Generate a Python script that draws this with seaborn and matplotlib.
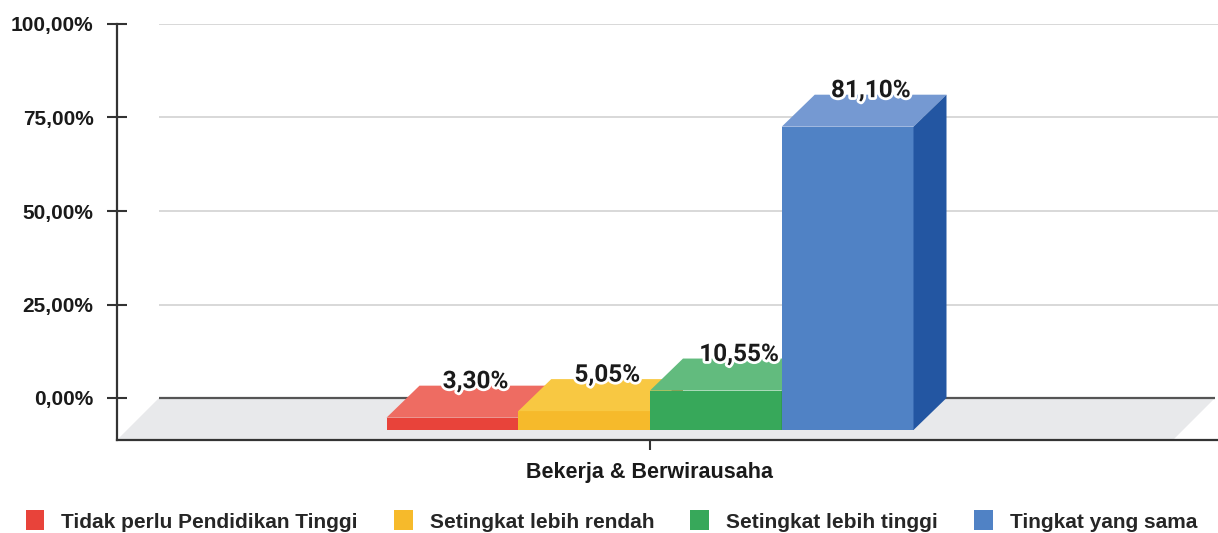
import matplotlib
matplotlib.use("Agg")
import matplotlib.pyplot as plt
import matplotlib.patheffects as pe
from matplotlib.patches import Polygon, Patch
import numpy as np
import pandas as pd
import seaborn as sns

# ---------------- data ----------------
category = ["Bekerja & Berwirausaha"]
series = ["Tidak perlu Pendidikan Tinggi", "Setingkat lebih rendah",
          "Setingkat lebih tinggi", "Tingkat yang sama"]
values = [3.30, 5.05, 10.55, 81.10]
value_labels = ["3,30%", "5,05%", "10,55%", "81,10%"]
y_ticks = [0, 25, 50, 75, 100]
y_tick_labels = ["0,00%", "25,00%", "50,00%", "75,00%", "100,00%"]

# ---------------- styles ----------------
front_colors = ["#E8433A", "#F6BA2B", "#37A85A", "#5082C5"]
top_colors = ["#EE6C62", "#F8C842", "#62BB7E", "#7599D2"]
side_colors = ["#A12E25", "#B5882A", "#1E7A3C", "#2356A2"]

sns.set_style("white")
plt.rcParams["font.family"] = ["Liberation Sans", "DejaVu Sans"]
plt.rcParams["font.weight"] = "bold"

W, H = 1218, 533
fig = plt.figure(figsize=(W / 100, H / 100), dpi=100)
ax = fig.add_axes([117 / W, 93 / H, 1101 / W, 416 / H])

df = pd.DataFrame({"cat": category * len(series), "series": series, "value": values})
sns.barplot(data=df, x="cat", y="value", hue="series", hue_order=series,
            palette=front_colors, saturation=1, width=0.8, linewidth=0,
            ax=ax, legend=False)

# pixel scale helpers
PX_PER_PCT = 3.74
PX_PER_UNIT = 658.75          # x data unit -> pixels
XC = 650                      # pixel of category centre
x_left = (117 - XC) / PX_PER_UNIT
x_right = (1218 - XC) / PX_PER_UNIT
y_bottom = -42 / PX_PER_PCT
ax.set_xlim(x_left, x_right)
ax.set_ylim(y_bottom, 100)

DX = 33 / PX_PER_UNIT         # bar depth
DY = 32 / PX_PER_PCT
FX = 42 / PX_PER_UNIT         # floor depth
x_floor_back_right = (1215 - XC) / PX_PER_UNIT

# floor
floor = Polygon([(x_left, y_bottom), (x_left + FX, 0), (x_floor_back_right, 0),
                 (x_floor_back_right - FX, y_bottom)],
                closed=True, facecolor="#E8E9EB", edgecolor="none", zorder=1)
bars = sorted(list(ax.patches), key=lambda p: p.get_x())
ax.add_patch(floor)
ax.hlines(0, x_left + FX, x_floor_back_right, color="#555555", lw=1.6, zorder=2)
ax.hlines(y_ticks[1:], x_left + FX, x_right, color="#D6D6D6", lw=1.3, zorder=0.5)

# 3D bars
for i, p in enumerate(bars):
    x0 = p.get_x()
    w = p.get_width()
    h = p.get_height()
    x1 = x0 + w
    bot = -DY
    top = h - DY
    p.set_y(bot)
    p.set_zorder(3 + i)
    ax.add_patch(Polygon([(x0, top), (x0 + DX, top + DY), (x1 + DX, top + DY), (x1, top)],
                         closed=True, facecolor=top_colors[i], edgecolor="none", zorder=3 + i))
    ax.add_patch(Polygon([(x1, bot), (x1 + DX, bot + DY), (x1 + DX, top + DY), (x1, top)],
                         closed=True, facecolor=side_colors[i], edgecolor="none", zorder=3 + i))
    ax.annotate(value_labels[i], xy=(x0 + w / 2, h), xytext=(23, 4),
                textcoords="offset pixels", ha="center", va="center",
                fontsize=17.5, fontweight="bold", color="#1A1A1A",
                family=["Roboto", "DejaVu Sans"], zorder=10,
                path_effects=[pe.withStroke(linewidth=4, foreground="white")])

# axes styling
sns.despine(ax=ax, top=True, right=True)
for s in ["left", "bottom"]:
    ax.spines[s].set_color("#333333")
    ax.spines[s].set_linewidth(1.6)
ax.set_yticks(y_ticks, y_tick_labels)
ax.set_xticks([0], category)
ax.tick_params(axis="y", left=True, direction="inout", length=15, width=1.5, color="#333333",
               labelsize=15, labelcolor="#1A1A1A", pad=9.5)
ax.tick_params(axis="x", bottom=True, direction="inout", length=15, width=1.5, color="#333333",
               labelsize=15.5, labelcolor="#1A1A1A", pad=8)
for t in ax.get_xticklabels() + ax.get_yticklabels():
    t.set_fontweight("bold")
ax.set_xlabel("")
ax.set_ylabel("")

handles = [Patch(facecolor=c, edgecolor="none") for c in front_colors]
fig.legend(handles, series, loc="center", bbox_to_anchor=(0.502, 0.0225), ncol=4,
           frameon=False, prop={"size": 15, "weight": "bold"},
           handlelength=0.9, handleheight=1.1, handletextpad=0.82,
           columnspacing=1.73, borderpad=0, borderaxespad=0)

fig.savefig("out.png", dpi=100)
